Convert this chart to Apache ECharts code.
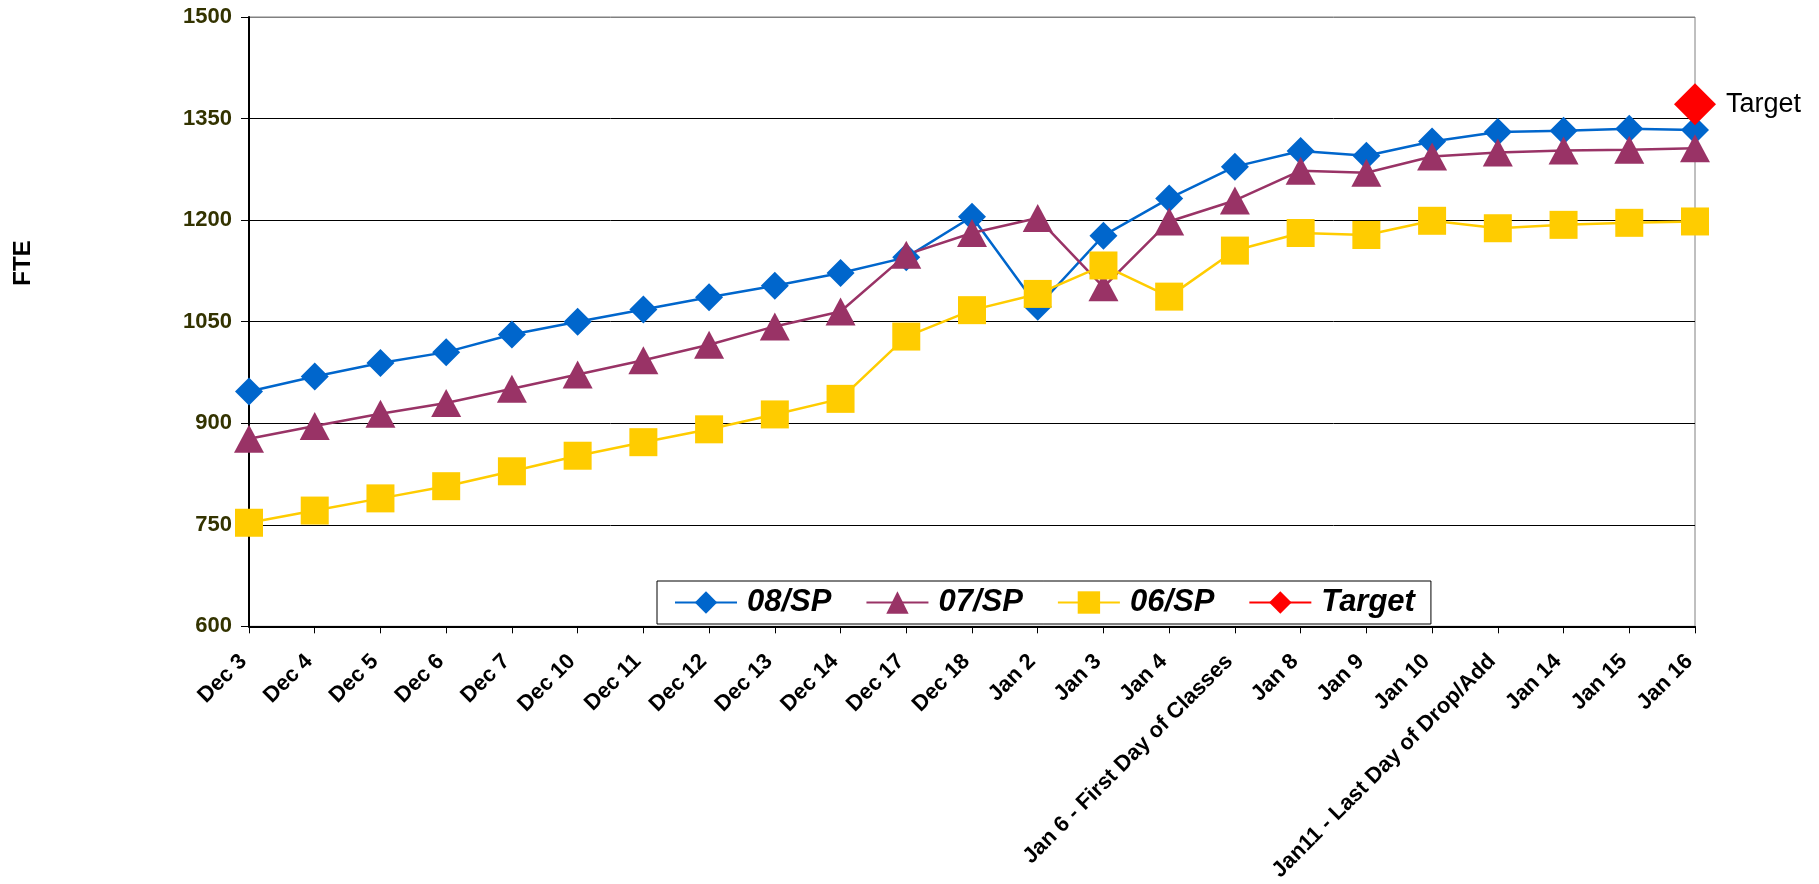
<!DOCTYPE html>
<html>
<head>
<meta charset="utf-8">
<script src="https://cdn.jsdelivr.net/npm/echarts@6/dist/echarts.min.js"></script>
<style>
html,body{margin:0;padding:0;background:#fff;}
#chart{width:1819px;height:884px;}
</style>
</head>
<body>
<div id="chart"></div>
<script>
var categories = ['Dec 3','Dec 4','Dec 5','Dec 6','Dec 7','Dec 10','Dec 11','Dec 12','Dec 13','Dec 14','Dec 17','Dec 18','Jan 2','Jan 3','Jan 4','Jan 6 - First Day of Classes','Jan 8','Jan 9','Jan 10','Jan11 - Last Day of Drop/Add','Jan 14','Jan 15','Jan 16'];
var sp08 = [947, 969, 989, 1005, 1031, 1050, 1068, 1086, 1103, 1122, 1145, 1205, 1072, 1177, 1232, 1279, 1302, 1295, 1316, 1330, 1332, 1335, 1333];
var sp07 = [877, 896, 914, 930, 951, 972, 993, 1016, 1043, 1065, 1149, 1181, 1203, 1101, 1198, 1229, 1273, 1270, 1294, 1300, 1303, 1304, 1306];
var sp06 = [753, 771, 789, 807, 829, 852, 872, 891, 913, 936, 1028, 1067, 1091, 1133, 1087, 1155, 1181, 1178, 1199, 1188, 1193, 1196, 1198];
var target = [null, null, null, null, null, null, null, null, null, null, null, null, null, null, null, null, null, null, null, null, null, null, 1371];
var yTicks = [600, 750, 900, 1050, 1200, 1350, 1500];

var FONT = 'Liberation Sans, Arial, sans-serif';
var chart = echarts.init(document.getElementById('chart'));
chart.setOption({
  animation: false,
  backgroundColor: '#fff',
  grid: { left: 249, right: 124, top: 17, bottom: 256, show: true, borderColor: '#808080', borderWidth: 1, backgroundColor: '#fff' },
  graphic: [{
    type: 'text', x: 23, y: 263, rotation: Math.PI / 2,
    style: { text: 'FTE', fontFamily: FONT, fontWeight: 'bold', fontSize: 24, fill: '#000', align: 'center', verticalAlign: 'middle' }
  }],
  legend: {
    left: 657, top: 581, orient: 'horizontal',
    padding: [6, 16, 6, 17],
    itemWidth: 62, itemHeight: 28, itemGap: 34,
    borderColor: '#000', borderWidth: 1, backgroundColor: '#fff',
    textStyle: { fontFamily: FONT, fontWeight: 'bold', fontStyle: 'italic', fontSize: 31, color: '#000', lineHeight: 31, padding: [0, 0, 0, 5] },
    data: ['08/SP', '07/SP', '06/SP', 'Target']
  },
  xAxis: {
    type: 'category', data: categories, boundaryGap: false,
    axisLine: { show: true, lineStyle: { color: '#000', width: 2 } },
    axisTick: { show: true, interval: 0, length: 7, lineStyle: { color: '#000', width: 1 } },
    axisLabel: { interval: 0, rotate: 45, margin: 26, padding: [0, 8, 0, 0], fontFamily: FONT, fontWeight: 'bold', fontSize: 22, color: '#000' },
    splitLine: { show: false }
  },
  yAxis: {
    type: 'value', min: yTicks[0], max: yTicks[yTicks.length - 1], interval: 150,
    axisLine: { show: true, lineStyle: { color: '#000', width: 2 } },
    axisTick: { show: true, length: 8, lineStyle: { color: '#000', width: 1 } },
    axisLabel: { margin: 17, fontFamily: FONT, fontWeight: 'bold', fontSize: 22, color: '#333300',
      formatter: function (v) { return String(v); } },
    splitLine: { show: true, lineStyle: { color: ['#000', '#000', '#000', '#000', '#000', '#000', '#808080'], width: 1 } }
  },
  series: [
    { name: '08/SP', type: 'line', data: sp08, symbol: 'diamond', symbolSize: [28, 28],
      lineStyle: { color: '#0066CC', width: 2.5 }, itemStyle: { color: '#0066CC' } },
    { name: '07/SP', type: 'line', data: sp07, symbol: 'triangle', symbolSize: [30, 28],
      lineStyle: { color: '#993366', width: 2.5 }, itemStyle: { color: '#993366' } },
    { name: '06/SP', type: 'line', data: sp06, symbol: 'rect', symbolSize: [28, 28],
      lineStyle: { color: '#FFCC00', width: 2.5 }, itemStyle: { color: '#FFCC00' } },
    { name: 'Target', type: 'line', data: target, symbol: 'diamond', symbolSize: [42, 42],
      lineStyle: { color: '#FF0000', width: 2.5 }, itemStyle: { color: '#FF0000' },
      label: { show: true, position: 'right', distance: 10, formatter: 'Target', fontFamily: FONT, fontSize: 27, color: '#000' } }
  ]
});
</script>
</body>
</html>
